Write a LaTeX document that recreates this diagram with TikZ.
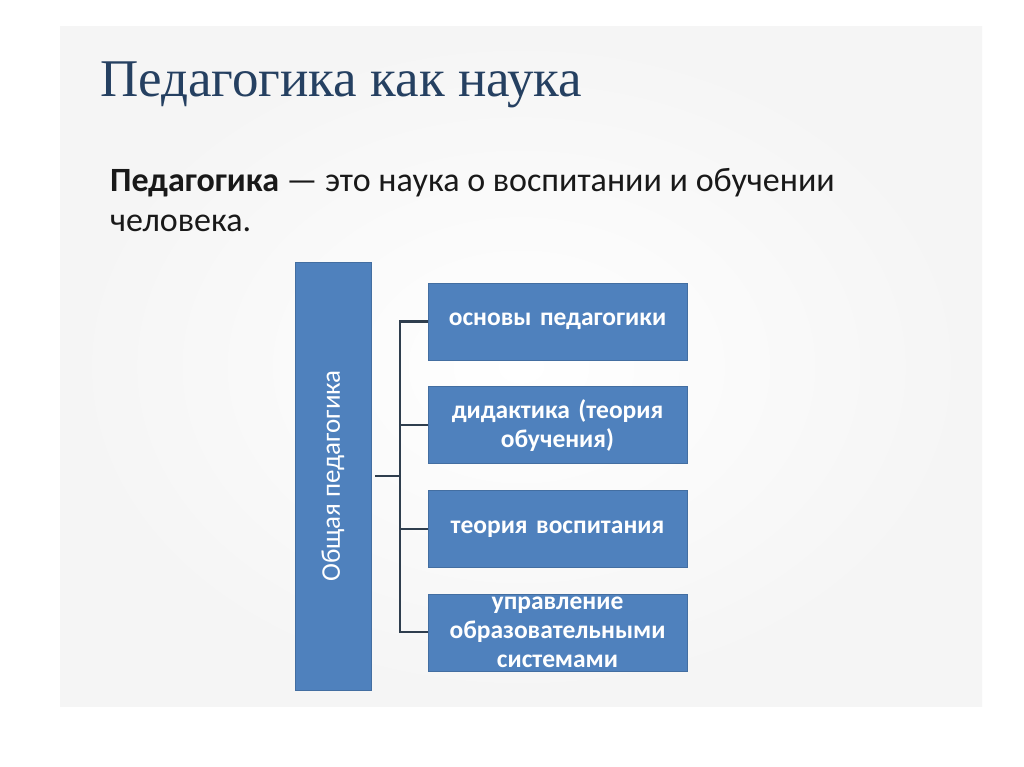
\documentclass[tikz,border=0pt]{standalone}
\usepackage{fontspec}
\setmainfont{Carlito}
\newfontfamily\titlefont{Liberation Serif}
\usepackage{graphicx}
\usetikzlibrary{positioning}
\definecolor{slideBlue}{HTML}{4F81BD}
\definecolor{titleBlue}{HTML}{254061}
\definecolor{lineGray}{HTML}{2F3E4E}

\tikzset{
  part/.style={fill=slideBlue, draw=slideBlue!85!black, line width=0.6pt,
    minimum width=259pt, minimum height=77pt, inner sep=0pt, text=white,
    font=\fontsize{25.5}{29}\selectfont\bfseries, align=center, text width=256pt},
  link/.style={lineGray, line width=2.2pt},
}

\begin{document}
\begin{tikzpicture}[x=1pt, y=-1pt]
  \useasboundingbox (0,0) rectangle (1024,767);
  \fill[white] (0,0) rectangle (1024,767);
  % slide
  \shade[inner color=white, middle color=white, outer color=black!4] (60,27) rectangle (982,706);
  \node[anchor=base west, text=titleBlue, font=\titlefont\fontsize{53}{53}\selectfont, inner sep=0pt]
    (title) at (100,97) {Педагогика как наука};
  \node[anchor=base west, align=left, inner sep=0pt, text=black!90, font=\fontsize{34}{40}\selectfont]
    (def) at (110,232) {\textbf{Педагогика} — это наука о воспитании и обучении\\человека.};

  % the scheme
  \node[fill=slideBlue, draw=slideBlue!85!black, line width=0.6pt, minimum width=76pt,
    minimum height=428pt, inner sep=0pt, text=white, font=\fontsize{27}{29}\selectfont]
    (gen) at (333,476) {\rotatebox{90}{Общая педагогика}};
  \node[part] (b1) at (557.5,321.5) {основы педагогики};
  \node[part, below=26pt of b1] (b2) {дидактика (теория\\обучения)};
  \node[part, below=26pt of b2] (b3) {теория воспитания};
  \node[part, below=26pt of b3] (b4) {управление\\образовательными\\системами};

  \coordinate (fork) at (400,477);
  \draw[link] ([xshift=4pt]gen.east) -- (gen.east -| fork);
  \draw[link] (b1.west) -| (fork) |- (b4.west);
  \foreach \b in {b2,b3}
    \draw[link] (\b.west) -- (\b.west -| fork);
\end{tikzpicture}
\end{document}
